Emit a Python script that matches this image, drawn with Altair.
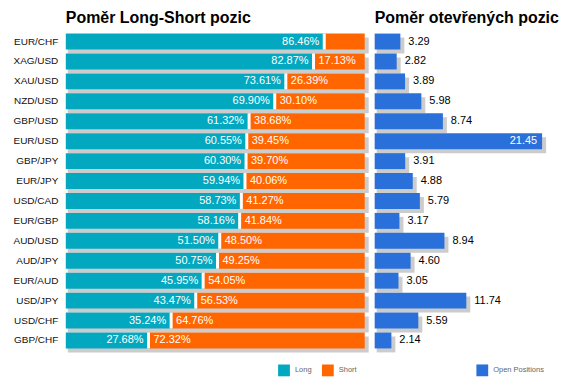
import altair as alt
import pandas as pd

pairs = ["EUR/CHF", "XAG/USD", "XAU/USD", "NZD/USD", "GBP/USD", "EUR/USD", "GBP/JPY", "EUR/JPY",
         "USD/CAD", "EUR/GBP", "AUD/USD", "AUD/JPY", "EUR/AUD", "USD/JPY", "USD/CHF", "GBP/CHF"]
long_pct = [86.46, 82.87, 73.61, 69.90, 61.32, 60.55, 60.30, 59.94,
            58.73, 58.16, 51.50, 50.75, 45.95, 43.47, 35.24, 27.68]
short_pct = [13.54, 17.13, 26.39, 30.10, 38.68, 39.45, 39.70, 40.06,
             41.27, 41.84, 48.50, 49.25, 54.05, 56.53, 64.76, 72.32]
open_pos = [3.29, 2.82, 3.89, 5.98, 8.74, 21.45, 3.91, 4.88,
            5.79, 3.17, 8.94, 4.60, 3.05, 11.74, 5.59, 2.14]

df = pd.DataFrame({"pair": pairs, "Long": long_pct, "Short": short_pct, "Open": open_pos})

FONT = "Liberation Sans, Arial, sans-serif"
TEAL = "#02A8C0"
ORANGE = "#FF6600"
BLUE = "#2A70DA"
SHADOW = "#CCCCCC"
BAR = 16

yscale = alt.Scale(paddingInner=0, paddingOuter=0)
y_left = alt.Y("pair:N", sort=pairs, scale=yscale, title=None,
               axis=alt.Axis(ticks=False, domain=False, labelPadding=8, labelFontSize=10,
                             labelFont=FONT, labelColor="#111111"))
y_right = alt.Y("pair:N", sort=pairs, scale=yscale, axis=None)

xl = alt.Scale(domain=[0, 100], nice=False, zero=True)
base_l = alt.Chart(df).transform_calculate(
    zero="0", total="datum.Long + datum.Short",
    llab="format(datum.Long, '.2f') + '%'", slab="format(datum.Short, '.2f') + '%'")

shadow_l = base_l.mark_bar(color=SHADOW, size=BAR, xOffset=2, x2Offset=4, yOffset=4).encode(
    x=alt.X("zero:Q", scale=xl, axis=None), x2="total:Q", y=y_left)
stack_l = base_l.transform_fold(["Long", "Short"], as_=["side", "pct"]).mark_bar(size=BAR).encode(
    x=alt.X("pct:Q", stack="zero", scale=xl, axis=None),
    y=y_left,
    color=alt.Color("side:N", scale=alt.Scale(domain=["Long", "Short"], range=[TEAL, ORANGE]),
                    legend=alt.Legend(orient="none", legendX=213, legendY=334, direction="horizontal",
                                      title=None)),
    order=alt.Order("side:N"))
gap_l = base_l.mark_bar(color="white", size=BAR, xOffset=-1.5, x2Offset=1.5).encode(
    x=alt.X("Long:Q", scale=xl, axis=None), x2="Long:Q", y=y_left)
ltext = base_l.mark_text(align="right", dx=-5, color="white", fontSize=11, font=FONT,
                         baseline="middle").encode(
    x=alt.X("Long:Q", scale=xl, axis=None), y=y_left, text="llab:N")
stext = base_l.transform_filter("datum.Short >= 15").mark_text(
    align="left", dx=5, color="white", fontSize=11, font=FONT, baseline="middle").encode(
    x=alt.X("Long:Q", scale=xl, axis=None), y=y_left, text="slab:N")

left = alt.layer(shadow_l, stack_l, gap_l, ltext, stext).properties(
    width=300, height=320, title=alt.Title("Poměr Long-Short pozic"))

xr = alt.Scale(domain=[0, 24], nice=False, zero=True)
base_r = alt.Chart(df).transform_calculate(
    zero="0", series="'Open Positions'", olab="format(datum.Open, '.2f')")
shadow_r = base_r.mark_bar(color=SHADOW, size=BAR, xOffset=2, x2Offset=4, yOffset=4).encode(
    x=alt.X("zero:Q", scale=xr, axis=None), x2="Open:Q", y=y_right)
bar_r = base_r.mark_bar(size=BAR).encode(
    x=alt.X("zero:Q", scale=xr, axis=None), x2="Open:Q", y=y_right,
    color=alt.Color("series:N", scale=alt.Scale(domain=["Open Positions"], range=[BLUE]),
                    legend=alt.Legend(orient="none", legendX=102, legendY=334, direction="horizontal",
                                      title=None)))
out_t = base_r.transform_filter("datum.Open < 15").mark_text(
    align="left", dx=8, color="black", fontSize=11, font=FONT, baseline="middle").encode(
    x=alt.X("Open:Q", scale=xr, axis=None), y=y_right, text="olab:N")
in_t = base_r.transform_filter("datum.Open >= 15").mark_text(
    align="right", dx=-5, color="white", fontSize=11, font=FONT, baseline="middle").encode(
    x=alt.X("Open:Q", scale=xr, axis=None), y=y_right, text="olab:N")

right = alt.layer(shadow_r, bar_r, out_t, in_t).properties(
    width=188, height=320, title=alt.Title("Poměr otevřených pozic"))

chart = alt.hconcat(left, right, spacing=10).resolve_scale(color="independent", y="independent").properties(
    padding={"left": 4, "top": 1, "right": 0, "bottom": 0}, bounds="flush"
).configure_view(stroke=None).configure_title(
    font=FONT, fontSize=16, fontWeight="bold", anchor="start", color="#000000", offset=6, frame="group"
).configure_legend(
    symbolType="square", symbolSize=140, symbolStrokeWidth=0, labelFontSize=7.5, labelFont=FONT,
    labelColor="#666666", labelOffset=5, columnPadding=10, padding=0
)

chart.save("out.html", embed_options={"renderer": "svg", "actions": False})
